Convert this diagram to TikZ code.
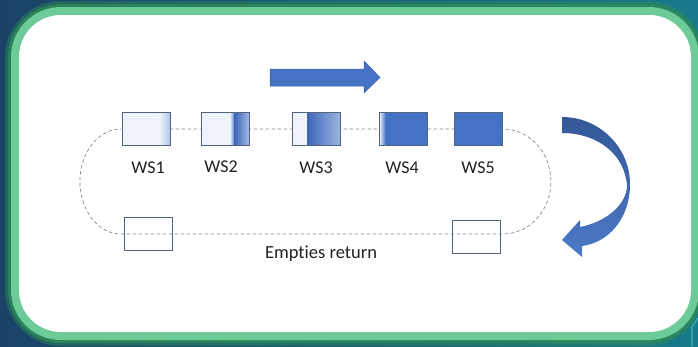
\documentclass[tikz,border=0pt]{standalone}
\usepackage{fontspec}
\setmainfont{Carlito}[Ligatures=NoCommon]
\usetikzlibrary{calc}

\definecolor{bgleft}{HTML}{1A4266}
\definecolor{bgright}{HTML}{187A8C}
\definecolor{glow}{HTML}{2C8A58}
\definecolor{frame}{HTML}{6CCB98}
\definecolor{boxedge}{HTML}{52637C}
\definecolor{pale}{HTML}{EEF3FB}
\definecolor{blueA}{HTML}{4472C4}
\definecolor{blueD}{HTML}{3D66B8}
\definecolor{blueL}{HTML}{A3B8E4}
\definecolor{arrowedge}{HTML}{3A62A8}
\definecolor{trackgray}{HTML}{8A8A8A}
\definecolor{ink}{HTML}{222222}

\pgfdeclarelayer{panel}
\pgfdeclarelayer{rail}
\pgfsetlayers{panel,rail,main}

% one shaded band of a station box, between fractions #1 and #2 of its width
\newcommand\boxseg[4]{%
  \shade[left color=#3,right color=#4]
    ($(path picture bounding box.south west)!#1!(path picture bounding box.south east)$)
    rectangle
    ($(path picture bounding box.north west)!#2!(path picture bounding box.north east)$);}

\tikzset{
  station/.style={draw=boxedge, line width=1pt, minimum width=48pt,
    minimum height=33pt, inner sep=0pt},
  empty/.style={draw=boxedge, line width=1pt, minimum width=48pt,
    minimum height=33pt, inner sep=0pt},
  lbl/.style={text=ink, font=\fontsize{18}{20}\selectfont, inner sep=0pt},
  track/.style={draw=trackgray, line width=0.7pt, dash pattern=on 3.5pt off 2.5pt},
}

\begin{document}
\begin{tikzpicture}[x=1pt,y=-1pt]
\useasboundingbox (0,0) rectangle (698,346);

% backdrop and framed panel
\begin{pgfonlayer}{panel}
\shade[left color=bgleft,right color=bgright] (0,0) rectangle (698,346);
\fill[glow,opacity=0.45,rounded corners=56] (5,1) rectangle (704,346);
\fill[glow,opacity=0.8,rounded corners=53] (8,4) rectangle (702,343);
\fill[frame,rounded corners=50] (11,7) rectangle (699,340);
\fill[white,rounded corners=42] (19,15) rectangle (691,332);
\draw[color=cyan!60!green!80!white,line width=1.1pt] (698,318) -- (692,327) -- (692,346);
\end{pgfonlayer}

% station boxes on the line
\node[station,path picture={\fill[pale] (path picture bounding box.south west) rectangle (path picture bounding box.north east);
    \boxseg{0.78}{1.0}{pale}{blueL!85}}] (ws1) at (146,129) {};
\node[station,path picture={\fill[pale] (path picture bounding box.south west) rectangle (path picture bounding box.north east);
    \boxseg{0.60}{0.71}{pale}{blueD}\boxseg{0.70}{1.0}{blueD}{blueL}}] (ws2) at (225,129) {};
\node[station,path picture={\fill[pale] (path picture bounding box.south west) rectangle (path picture bounding box.north east);
    \boxseg{0.305}{1.0}{blueD}{blueL!95!blueA}}] (ws3) at (316.4,129) {};
\node[station,path picture={\fill[blueA] (path picture bounding box.south west) rectangle (path picture bounding box.north east);
    \boxseg{0.0}{0.13}{pale}{blueA}}] (ws4) at (403.4,129) {};
\node[station,fill=blueA] (ws5) at (478.4,129) {};

% return boxes
\node[empty] (ret1) at (148.4,234.2) {};
\node[empty] (ret2) at (476.4,237) {};

% conveyor loop, running underneath the boxes
\begin{pgfonlayer}{rail}
\draw[track] (ws1.west) -- (ws5.east)
  arc[start angle=-90,end angle=90,x radius=48,y radius=52.5]
  -- ++(-382,0)
  arc[start angle=90,end angle=270,x radius=41,y radius=52.5];
\end{pgfonlayer}

% labels
\node[lbl] (l1) at (148,168) {WS1};
\node[lbl] (l2) at (221,167) {WS2};
\node[lbl] (l3) at (316,168) {WS3};
\node[lbl] (l4) at (402,168) {WS4};
\node[lbl] (l5) at (478,168) {WS5};
\node[lbl,font=\fontsize{18.5}{20}\selectfont] (lret) at (321,254) {Empties return};

% direction arrow above the line
\fill[blueA,draw=arrowedge,line width=0.5pt]
  (270,69) -- (364,69) -- (364,61) -- (380,77.5) -- (364,93) -- (364,86) -- (270,86) -- cycle;

% curved return arrow
\shade[top color=arrowedge!90!black,bottom color=blueA!95!white]
  (562,117) .. controls (600,117) and (630,148) .. (630,184)
  .. controls (630,220) and (607,243) .. (582,246)
  -- (582,257) -- (562,240) -- (580,220) -- (580,227)
  .. controls (605,222) and (626,206) .. (627,186)
  .. controls (625,154) and (597,133) .. (562,133) -- cycle;
\end{tikzpicture}
\end{document}
